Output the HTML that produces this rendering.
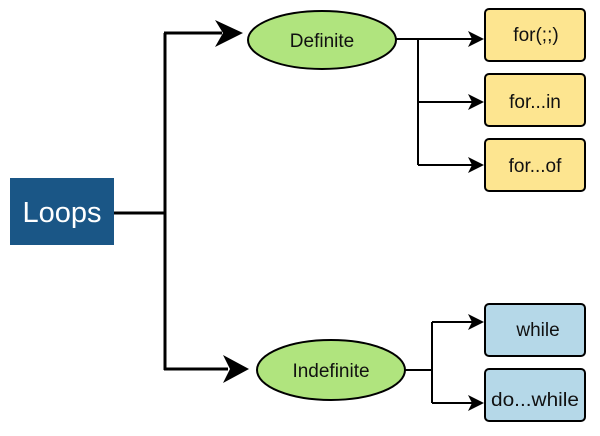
<!DOCTYPE html>
<html><head><meta charset="utf-8"><style>
html,body{margin:0;padding:0;background:#fff;}
svg{display:block;}
text{font-family:"Liberation Sans",sans-serif;}
</style></head><body>
<svg width="600" height="436" viewBox="0 0 600 436" xmlns="http://www.w3.org/2000/svg">
<rect x="10" y="178" width="104" height="67" fill="#1a5686"/>
<text x="62" y="222" font-size="29" fill="#fff" text-anchor="middle">Loops</text>
<g stroke="#000" stroke-width="3" fill="none">
<path d="M114 213 H165 M165 33 V370 M164 33 H222 M164 369 H228"/>
</g>
<polygon points="243,33 215,20 223,33 215,47" fill="#000"/>
<polygon points="249,369 223,355 230,369 223,383" fill="#000"/>
<ellipse cx="322" cy="40" rx="74" ry="29" fill="#b0e47e" stroke="#000" stroke-width="2"/>
<text x="322" y="47" font-size="19" text-anchor="middle" fill="#111">Definite</text>
<ellipse cx="331" cy="370" rx="74" ry="30" fill="#b0e47e" stroke="#000" stroke-width="2"/>
<text x="331" y="377" font-size="19" text-anchor="middle" fill="#111">Indefinite</text>
<g stroke="#000" stroke-width="2" fill="none">
<path d="M396 39 H472 M418 39 V165 M418 102 H472 M418 165 H472"/>
<path d="M404 370 H432 M432 322 V403 M432 322 H472 M432 403 H472"/>
</g>
<g fill="#000">
<polygon points="484,39 468,31 472,39 468,47"/>
<polygon points="484,102 468,94 472,102 468,110"/>
<polygon points="484,165 468,157 472,165 468,173"/>
<polygon points="484,322 468,314 472,322 468,330"/>
<polygon points="484,403 468,395 472,403 468,411"/>
</g>
<g stroke="#000" stroke-width="2">
<rect x="485" y="9" width="100" height="52" rx="4" fill="#fde590"/>
<rect x="485" y="74" width="100" height="52" rx="4" fill="#fde590"/>
<rect x="485" y="139" width="100" height="52" rx="4" fill="#fde590"/>
<rect x="485" y="304" width="100" height="52" rx="4" fill="#b5d8e8"/>
<rect x="485" y="369" width="100" height="52" rx="4" fill="#b5d8e8"/>
</g>
<g font-size="19" text-anchor="middle" fill="#111">
<text x="536" y="41">for(;;)</text>
<text x="535" y="108">for...in</text>
<text x="535" y="172">for...of</text>
<text x="538" y="336">while</text>
<text x="535" y="406" textLength="88" lengthAdjust="spacingAndGlyphs">do...while</text>
</g>
</svg>
</body></html>
